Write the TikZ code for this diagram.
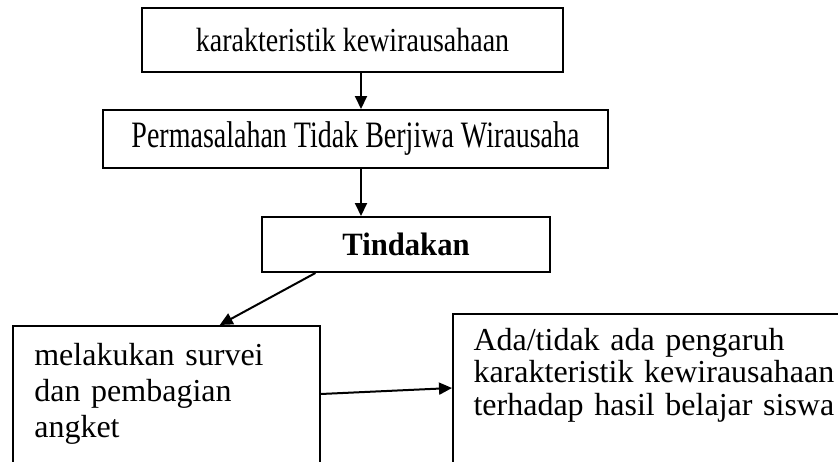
\documentclass[tikz,border=0pt]{standalone}
\usepackage{fontspec}
\setmainfont{Liberation Serif}
\usepackage{graphicx}
\usepackage{tikz}
\usetikzlibrary{arrows.meta}
\usetikzlibrary{positioning, calc}

\tikzset{
    box/.style={draw, line width=1.5pt, inner sep=0pt, font=\fontsize{21}{25}\selectfont},
    textbox/.style={draw, line width=1.5pt, anchor=north west, align=left,
        inner ysep=0pt, text depth=112.5pt, font=\fontsize{24}{27.2}\selectfont},
    flow/.style={-{Triangle[length=9.75pt,width=9pt]}, line width=1.5pt}
}

\begin{document}
\begin{tikzpicture}[x=0.75pt,y=-0.75pt]
    \path[use as bounding box, clip] (0,0) rectangle (838,461);

    % upper boxes
    \node[box, minimum width=315.75pt, minimum height=48pt]
        (kar) at (352.5,40) {\scalebox{1}[1.2]{karakteristik kewirausahaan}};
    \node[box, minimum width=378.75pt, minimum height=43.5pt]
        (mas) at (355.5,139) {\scalebox{1}[1.33]{Permasalahan Tidak Berjiwa Wirausaha}};
    \node[box, minimum width=216pt, minimum height=41.25pt,
        font=\fontsize{23}{27}\selectfont\bfseries]
        (tin) at (406,244.5) {\scalebox{1}[1.06]{Tindakan}};

    % lower boxes
    \node[textbox, inner xsep=16pt, text width=198pt, text height=29.5pt]
        (sur) at (12,325) {melakukan survei\\dan pembagian\\angket};
    \node[textbox, inner xsep=15.4pt, text width=300pt, text height=27.5pt,
        font=\fontsize{24}{24.2}\selectfont]
        (has) at (452,313) {Ada/tidak ada pengaruh\\karakteristik kewirausahaan\\terhadap hasil belajar siswa};

    % arrows
    \coordinate (axis) at (361,0);
    \draw[flow] (axis |- kar.south) -- (axis |- mas.north);
    \draw[flow] (axis |- mas.south) -- (axis |- tin.north);
    \draw[flow] ($(tin.south west)!0.1875!(tin.south east)$)
        -- ($(sur.north west)!0.673!(sur.north east)$);
    \draw[flow] ($(sur.north east)+(0,69)$) -- ($(has.north west)+(0,75)$);
\end{tikzpicture}
\end{document}
